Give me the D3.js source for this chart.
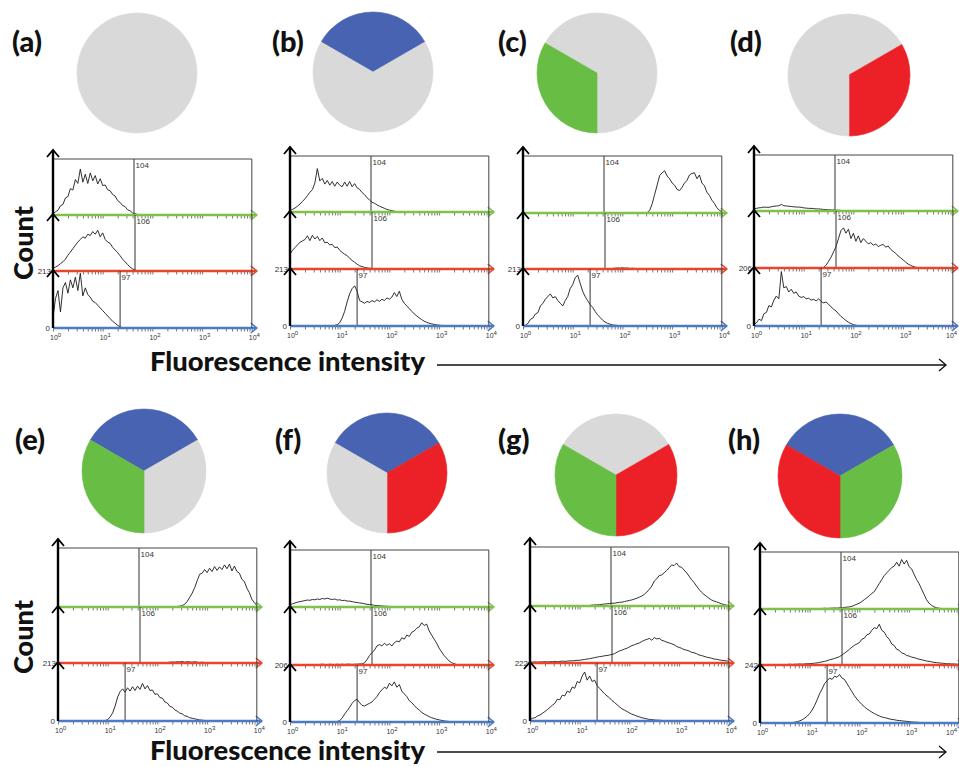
<!DOCTYPE html>
<html><head><meta charset="utf-8">
<script src="https://cdn.jsdelivr.net/npm/d3@7"></script>
<style>body{margin:0;background:#fff}svg{display:block}</style>
</head><body>
<svg id="c" width="959" height="767"></svg>
<script>
// ---------------- DATA ----------------
const panelLetters = ["(a)","(b)","(c)","(d)","(e)","(f)","(g)","(h)"];
const pieSlices = [1, 1, 1]; // top third, right third, left third
const pieMarkers = [
  ["none","none","none"],
  ["blue","none","none"],
  ["none","none","green"],
  ["none","red","none"],
  ["blue","none","green"],
  ["blue","red","none"],
  ["none","red","green"],
  ["blue","green","red"]
];
const yMaxLabels = ["213","213","213","206","213","206","222","242"];
const YMAX = 213;
const gateExp = [1.63, 1.65, 1.35];
const gateLabels = ["104","106","97"];
const decadeLabels = ["0","1","2","3","4"];
const BIN = 0.05; // histogram bin width in decades

// histogram counts (green, red, blue channel) per panel; each starts at exponent given in histStart
const aG = [5,12,18,35,40,65,70,100,95,135,120,175,125,155,120,160,130,150,118,138,112,114,96,92,78,72,55,48,36,32,20,16,8,5,2,0];
const aR = [10,15,20,28,35,45,60,72,85,98,110,120,130,125,140,135,150,140,155,130,145,120,110,105,90,80,70,58,45,35,25,15,8,4,0];
const aB = [40,110,140,60,150,170,130,180,150,190,140,205,120,150,125,115,100,95,85,75,65,55,45,35,25,18,10,5,0];
const bG = [5,10,15,22,30,40,50,62,75,85,110,165,118,128,106,120,102,116,98,114,102,96,114,98,116,96,108,92,86,74,66,54,46,37,33,27,22,18,14,10,7,5,3,1,0];
const bR = [55,70,80,90,100,105,110,124,106,126,112,122,106,116,98,100,90,92,80,82,70,62,55,50,40,32,25,18,12,9,6,4,3,2,1,0];
const bB = [2,5,12,30,55,90,120,140,150,130,95,90,85,92,88,95,90,98,92,100,95,105,100,108,125,110,130,100,85,75,65,55,45,38,30,24,18,14,10,8,6,4,3,2,2,1,0];
const cG = [2,10,35,70,105,140,150,158,138,128,112,104,88,84,96,112,122,142,148,150,128,142,112,102,78,66,48,36,20,10,5];
const cR = [2,3,4,3,5,3,4,2,3,2,1,0];
const cB = [3,10,25,30,45,50,75,85,100,110,120,105,110,95,85,75,95,110,140,155,180,190,160,130,110,95,80,70,55,42,32,22,15,10,7,4,3,2,1,0];
const dG = [8,10,12,13,15,14,14,16,18,19,20,25,20,19,18,17,16,15,15,14,12,11,10,10,9,8,8,7,6,5,5,4,4,3,3,2,2,1,1,0,0];
const dR = [2,10,25,40,60,80,110,140,150,130,145,110,130,100,120,95,110,100,90,95,85,90,80,85,88,78,82,70,62,55,45,38,30,22,15,10,6,3,1,0];
const dB = [5,12,25,20,45,50,75,70,95,110,100,200,140,145,125,135,120,125,110,105,108,100,102,95,98,92,100,90,85,88,80,70,62,55,45,35,28,20,14,9,5,3,1,0];
const eG = [2,3,5,10,20,35,50,70,95,118,122,135,124,140,128,146,132,145,135,152,138,155,130,148,128,122,100,92,68,52,28,16,5];
const eR = [2,3,4,3,5,4,6,3,5,4,3,5,3,2,3,2,1,0];
const eB = [2,5,15,30,55,88,108,118,106,122,110,126,112,128,116,138,118,130,112,114,98,100,86,84,70,66,54,51,41,36,29,26,19,17,12,10,8,6,4,3,2,1,0];
const fG = [8,12,15,18,20,22,24,26,25,28,27,30,28,32,30,33,30,28,30,26,27,24,25,22,22,20,18,17,15,14,12,10,9,8,6,5,5,4,3,3,2,2,1,1,0];
const fR = [2,1,2,3,2,1,3,2,2,3,2,3,2,3,3,2,3,3,4,4,8,20,35,45,55,70,75,70,80,72,78,70,82,88,85,100,95,110,105,120,125,135,140,155,145,150,125,110,95,80,62,48,35,25,15,9,5,2,0];
const fB = [2,5,15,30,42,55,70,80,85,72,62,60,65,70,75,85,95,110,120,130,125,145,135,150,130,140,115,105,95,80,72,62,52,45,36,30,25,20,16,13,10,8,6,4,3,2,1,0];
const gG = [2,3,4,4,5,6,7,8,9,10,10,12,13,14,16,18,20,22,25,28,32,36,42,50,60,72,90,98,110,112,120,128,138,148,146,155,142,140,130,120,108,95,85,72,60,50,42,35,28,22,18,15,12,8,5,3,2];
const gR = [3,3,4,3,4,4,5,4,5,5,6,5,6,7,6,7,8,8,9,10,10,12,13,15,16,18,20,22,24,25,27,28,30,32,35,40,45,48,52,55,60,65,68,72,75,80,85,88,92,85,95,90,92,85,82,78,75,72,68,62,58,55,50,48,45,40,38,35,30,28,25,22,20,18,15,14,12,10,9,8,7];
const gB = [5,10,12,18,22,28,35,42,50,58,65,80,78,95,92,110,105,125,120,145,140,165,180,150,165,145,150,130,120,110,100,92,85,75,68,60,52,45,40,35,30,25,22,18,15,12,10,8,6,5,4,3,3,2,1,1,0];
const hG = [2,2,3,2,3,3,4,3,5,4,6,7,8,10,14,18,22,28,35,42,50,58,65,80,95,110,125,135,145,155,160,175,160,185,168,182,158,150,130,110,95,75,55,35,22,14,8,5,3,2,2,1,1,0];
const hR = [2,2,3,2,3,3,4,3,4,5,5,6,7,8,10,12,14,16,20,22,25,28,32,38,45,52,60,68,75,80,85,98,102,115,118,132,142,138,155,132,125,108,98,80,74,60,56,46,43,36,34,30,28,25,22,20,18,15,14,12,10,9,8,7,6,5,5,4,4,3,3];
const hB = [1,3,5,8,12,18,25,35,48,65,85,108,125,145,155,165,160,172,168,178,165,160,145,130,115,100,88,78,68,60,52,46,40,35,30,26,22,20,18,15,13,12,10,9,8,7,6,5,4,3,3,2,2,1,0];

const histData = [[aG,aR,aB],[bG,bR,bB],[cG,cR,cB],[dG,dR,dB],[eG,eR,eB],[fG,fR,fB],[gG,gR,gB],[hG,hR,hB]];
const histStart = [[0,0,0],[0,0,0.9],[2.5,1.8,0.05],[0,1.4,0],[2.4,2.2,0.95],[0,0.5,0.95],[1.2,0,0],[1.2,0.5,0.65]];

// ---------------- LAYOUT ----------------
const layout = [
  {x0:53,  top:159, base:[215,271,328], pie:[137,73,60], lab:[12,52]},
  {x0:290, top:156, base:[212,269,326], pie:[373,72,60], lab:[272,52]},
  {x0:523, top:156, base:[213,269,326], pie:[597,73,60], lab:[498,52]},
  {x0:754, top:155, base:[211,268,326], pie:[849,75,61], lab:[730,52]},
  {x0:58,  top:548, base:[607,663,721], pie:[144,471,62], lab:[15,450]},
  {x0:290, top:550, base:[607,665,722], pie:[387,473,60], lab:[275,450]},
  {x0:530, top:547, base:[606,663,721], pie:[616,475,61], lab:[498,450]},
  {x0:760, top:552, base:[609,665,723], pie:[840,476,62], lab:[728,450]}
];
const DEC = 49.7;
const colorMap = {none:"#d9d9d9", blue:"#4863b2", green:"#68bd45", red:"#ec2027"};
const chanColors = ["#7fc24a","#e8462c","#4b7bc4"];

const svg = d3.select("#c");
svg.append("rect").attr("width",959).attr("height",767).attr("fill","#fff");

const pie = d3.pie().sort(null).startAngle(-Math.PI/3).endAngle(5*Math.PI/3);
const minorTicks = [];
for (let k = 0; k < 4; k++) for (let m = 1; m < 10; m++) minorTicks.push(m * Math.pow(10, k));
minorTicks.push(1e4);

layout.forEach((L, i) => {
  const arc = d3.arc().innerRadius(0).outerRadius(L.pie[2]);
  svg.append("g").attr("transform", `translate(${L.pie[0]},${L.pie[1]})`)
    .selectAll("path").data(pie(pieSlices)).join("path")
    .attr("d", arc)
    .attr("fill", (d, j) => colorMap[pieMarkers[i][j]])
    .attr("stroke", (d, j) => colorMap[pieMarkers[i][j]])
    .attr("stroke-width", 0.6);
  svg.append("text").attr("x", L.lab[0]).attr("y", L.lab[1])
    .attr("font-family", "Lato, 'Open Sans', sans-serif").attr("font-weight", 900)
    .attr("font-size", 29).attr("fill", "#111").text(panelLetters[i]);

  const x = d3.scaleLog().domain([1, 1e4]).range([L.x0, L.x0 + 4 * DEC]);
  const x4 = L.x0 + 4 * DEC;
  const g = svg.append("g");

  for (let c = 0; c < 3; c++) {
    const top = c === 0 ? L.top : L.base[c - 1];
    const y = d3.scaleLinear().domain([0, YMAX]).range([L.base[c], top]);
    const start = histStart[i][c];
    const line = d3.line()
      .x((v, k) => x(Math.pow(10, start + k * BIN)))
      .y(v => y(v));
    g.append("path").datum(histData[i][c]).attr("d", line)
      .attr("fill", "none").attr("stroke", "#1a1a1a").attr("stroke-width", 0.9)
      .attr("stroke-linejoin", "round");
    const gx = x(Math.pow(10, gateExp[c]));
    g.append("line").attr("x1", gx).attr("x2", gx).attr("y1", top).attr("y2", L.base[c])
      .attr("stroke", "#333").attr("stroke-width", 1);
    g.append("text").attr("x", gx + 1.5).attr("y", top + 9)
      .attr("font-family", "'Liberation Sans', Arial, sans-serif").attr("font-size", 8)
      .attr("fill", "#333").text(gateLabels[c]);
    const ax = g.append("g").attr("transform", `translate(0,${L.base[c]})`)
      .call(d3.axisBottom(x).tickValues(minorTicks).tickSize(3.5).tickFormat(""));
    ax.select(".domain").remove();
    ax.selectAll("line").attr("stroke", "#555").attr("stroke-width", 0.8);
    g.append("line").attr("x1", L.x0).attr("x2", x4 + 5).attr("y1", L.base[c]).attr("y2", L.base[c])
      .attr("stroke", chanColors[c]).attr("stroke-width", 2.4);
    g.append("path").attr("d", `M${x4 - 1},${L.base[c] - 5}L${x4 + 5},${L.base[c]}L${x4 - 1},${L.base[c] + 5}`)
      .attr("fill", "none").attr("stroke", chanColors[c]).attr("stroke-width", 1.6);
  }
  g.append("line").attr("x1", L.x0).attr("x2", x4).attr("y1", L.top).attr("y2", L.top)
    .attr("stroke", "#444").attr("stroke-width", 1);
  g.append("line").attr("x1", x4).attr("x2", x4).attr("y1", L.top).attr("y2", L.base[2])
    .attr("stroke", "#444").attr("stroke-width", 1);
  g.append("text").attr("x", L.x0 - 2).attr("y", L.base[1] + 3).attr("text-anchor", "end")
    .attr("font-family", "'Liberation Sans', Arial, sans-serif").attr("font-size", 8)
    .attr("fill", "#333").text(yMaxLabels[i]);
  g.append("text").attr("x", L.x0 - 3).attr("y", L.base[2] + 3).attr("text-anchor", "end")
    .attr("font-family", "'Liberation Sans', Arial, sans-serif").attr("font-size", 8)
    .attr("fill", "#333").text("0");
  const tl = g.selectAll(".dl").data(decadeLabels).join("text")
    .attr("x", (d, k) => Math.min(x(Math.pow(10, k)) - 3, 946)).attr("y", L.base[2] + 12)
    .attr("font-family", "'Liberation Sans', Arial, sans-serif").attr("font-size", 7)
    .attr("fill", "#333");
  tl.append("tspan").text("10");
  tl.append("tspan").attr("dy", -3.5).attr("font-size", 6).text(d => d);
  g.append("line").attr("x1", L.x0).attr("x2", L.x0).attr("y1", L.base[2]).attr("y2", L.top - 9)
    .attr("stroke", "#000").attr("stroke-width", 2.4);
  [L.top - 9, L.base[0] - 1, L.base[1] - 1].forEach(ty => {
    g.append("path").attr("d", `M${L.x0 - 6},${ty + 7}L${L.x0},${ty}L${L.x0 + 6},${ty + 7}`)
      .attr("fill", "none").attr("stroke", "#000").attr("stroke-width", 1.8);
  });
});

[243, 637].forEach(cy => {
  svg.append("text").attr("transform", `translate(33,${cy}) rotate(-90)`)
    .attr("text-anchor", "middle").attr("font-family", "Lato, 'Open Sans', sans-serif")
    .attr("font-weight", 900).attr("font-size", 26).attr("fill", "#111")
    .attr("textLength", 74).attr("lengthAdjust", "spacingAndGlyphs").text("Count");
});
[[371, 365], [760, 752]].forEach(([ty, ay]) => {
  svg.append("text").attr("x", 150).attr("y", ty)
    .attr("font-family", "Lato, 'Open Sans', sans-serif").attr("font-weight", 900)
    .attr("font-size", 26).attr("fill", "#111")
    .attr("textLength", 275).attr("lengthAdjust", "spacingAndGlyphs").text("Fluorescence intensity");
  svg.append("line").attr("x1", 437).attr("x2", 946).attr("y1", ay).attr("y2", ay)
    .attr("stroke", "#111").attr("stroke-width", 1.3);
  svg.append("path").attr("d", `M939,${ay - 6}L946,${ay}L939,${ay + 6}`)
    .attr("fill", "none").attr("stroke", "#111").attr("stroke-width", 1.3);
});
</script>
</body></html>
